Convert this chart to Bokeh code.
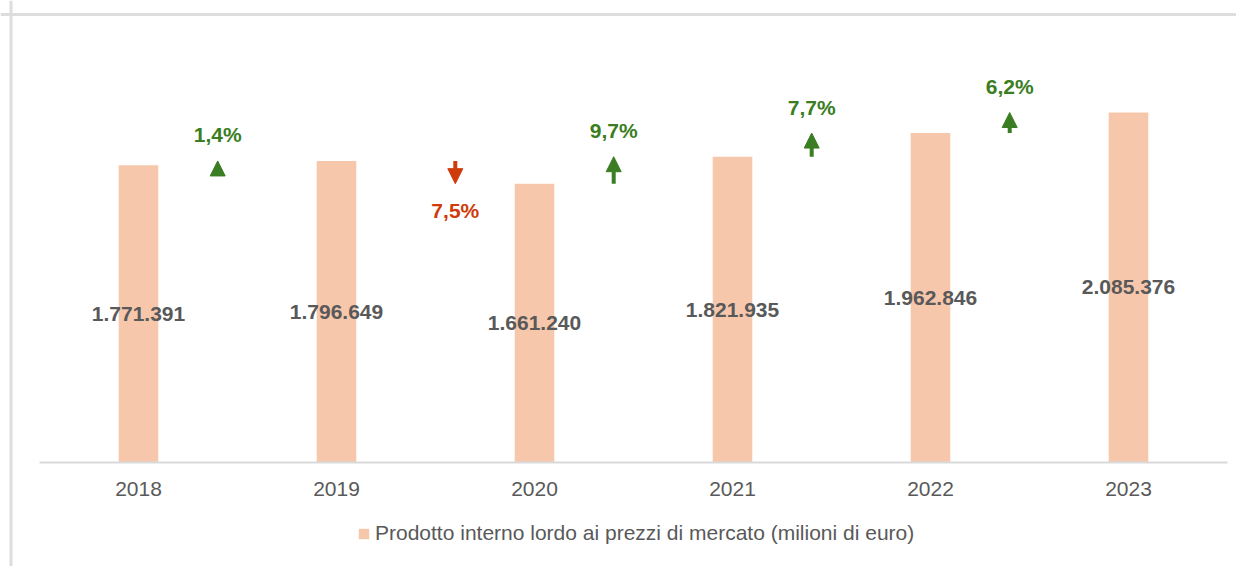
from bokeh.plotting import figure
from bokeh.models import (Range1d, Arrow, NormalHead, ColumnDataSource, Span,
                          FixedTicker, Legend, LegendItem)
from bokeh.core.properties import value
from bokeh.embed import file_html
from bokeh.resources import INLINE

# ---- data ----
years = ["2018", "2019", "2020", "2021", "2022", "2023"]
pil = [1771391, 1796649, 1661240, 1821935, 1962846, 2085376]
growth = [1.4, -7.5, 9.7, 7.7, 6.2]
series_name = "Prodotto interno lordo ai prezzi di mercato (milioni di euro)"

# ---- layout constants (pixels) ----
W, H = 1236, 566
PX_X = 198.0          # pixels per category
X0 = 138.0            # frame x of first category
PX_Y = 5958.0         # data units per pixel
BASE = 462.0          # frame y (from top) of baseline

x_start = -X0 / PX_X
x_end = (W - X0) / PX_X
y_start = -(H - BASE) * PX_Y
y_end = BASE * PX_Y

BAR = "#F7C7AC"
GREEN = "#3B7D23"
RED = "#CF3C0C"
GREY = "#595959"
FONT = "Liberation Sans"

p = figure(width=W, height=H, x_range=Range1d(x_start, x_end),
           y_range=Range1d(y_start, y_end), output_backend="svg",
           toolbar_location=None, y_axis_location=None,
           min_border_left=0, min_border_right=0, min_border_top=0,
           min_border_bottom=0)
p.outline_line_color = None
p.grid.visible = False
p.background_fill_color = "white"
p.border_fill_color = "white"

idx = list(range(len(years)))
bars_src = ColumnDataSource(dict(
    x=idx, top=pil, mid=[v / 2 for v in pil],
    label=[f"{v:,}".replace(",", ".") for v in pil]))

bars = p.vbar(x="x", top="top", width=0.2, source=bars_src,
              fill_color=BAR, line_color=None)

p.text(x="x", y="mid", text="label", source=bars_src,
       text_align="center", text_baseline="middle",
       text_font=value(FONT), text_font_size="21px",
       text_font_style="bold", text_color=GREY)

# ---- growth arrows and labels ----
ax, ys, ye, lab, col, off = [], [], [], [], [], []
for i, g in enumerate(growth):
    s = 1 if g >= 0 else -1
    ax.append(i + 0.5 - 0.1 * s)
    ys.append(pil[i])
    ye.append(pil[i + 1])
    lab.append(f"{abs(g):.1f}%".replace(".", ","))
    col.append(GREEN if s > 0 else RED)
    off.append(-26 if s > 0 else 27)

lab_src = ColumnDataSource(dict(x=ax, y=ye, text=lab, color=col, off=off))
p.text(x="x", y="y", text="text", y_offset="off", text_color="color",
       source=lab_src, text_align="center", text_baseline="middle",
       text_font=value(FONT), text_font_size="21px", text_font_style="bold")

for color, cond in ((GREEN, lambda g: g >= 0), (RED, lambda g: g < 0)):
    sel = [k for k, g in enumerate(growth) if cond(g)]
    src = ColumnDataSource(dict(x=[ax[k] for k in sel],
                                ys=[ys[k] for k in sel],
                                ye=[ye[k] for k in sel]))
    p.add_layout(Arrow(x_start="x", y_start="ys", x_end="x", y_end="ye",
                       source=src, line_color=color, line_width=4,
                       end=NormalHead(size=15, fill_color=color,
                                      line_color=color, line_width=1)))

# ---- x axis at baseline ----
xa = p.xaxis[0]
xa.fixed_location = 0
xa.ticker = FixedTicker(ticks=idx)
xa.major_label_overrides = {i: y for i, y in zip(idx, years)}
xa.bounds = (-0.5, 5.5)
xa.major_tick_out = 0
xa.major_tick_in = 0
xa.minor_tick_out = 0
xa.minor_tick_in = 0
xa.axis_line_color = "#D9D9D9"
xa.axis_line_width = 2
xa.major_label_text_font = FONT
xa.major_label_text_font_size = "21px"
xa.major_label_text_color = GREY
xa.major_label_standoff = 19

# ---- chart border (left & top) ----
p.add_layout(Span(location=x_start + 10.5 / PX_X, dimension="height",
                  line_color="#DDDDDD", line_width=3))
p.add_layout(Span(location=y_end - 14.0 * PX_Y, dimension="width",
                  line_color="#DDDDDD", line_width=3))

# ---- legend ----
legend = Legend(items=[LegendItem(label=series_name, renderers=[bars])],
                location=(357, 21), orientation="horizontal",
                border_line_color=None, background_fill_alpha=0,
                padding=0, margin=0, spacing=0,
                glyph_width=13, glyph_height=13, label_standoff=5,
                label_text_font=FONT, label_text_font_size="21px",
                label_text_color=GREY)
p.add_layout(legend, "center")

open("out.html", "w").write(file_html(p, INLINE))
